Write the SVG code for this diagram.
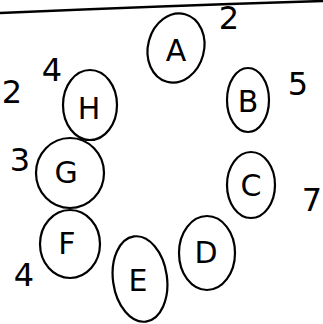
<svg xmlns="http://www.w3.org/2000/svg" width="323" height="324" viewBox="0 0 323 324">
<style>
.n{fill:none;stroke:#000;stroke-width:2.2}
.t{font-family:"DejaVu Sans","Liberation Sans",sans-serif;font-size:30px;fill:#000;text-anchor:middle;dominant-baseline:central}
.w{font-family:"DejaVu Sans","Liberation Sans",sans-serif;font-size:32px;fill:#000;text-anchor:middle;dominant-baseline:central}
</style>
<rect width="323" height="324" fill="#fff"/>
<g id="connectors">
<path d="M0,13 Q160,6 323,1" fill="none" stroke="#000" stroke-width="2.5"/>
</g>
<g id="A"><ellipse class="n" cx="176" cy="48" rx="28" ry="35" transform="rotate(15 176 48)"/><text class="t" x="176" y="50">A</text></g>
<g id="B"><ellipse class="n" cx="248" cy="100" rx="21" ry="32"/><text class="t" x="248" y="101">B</text></g>
<g id="C"><ellipse class="n" cx="251" cy="185" rx="24" ry="33"/><text class="t" x="251" y="185">C</text></g>
<g id="D"><ellipse class="n" cx="207" cy="253" rx="28" ry="37"/><text class="t" x="206" y="252">D</text></g>
<g id="E"><ellipse class="n" cx="140" cy="279" rx="27" ry="43" transform="rotate(-8 140 279)"/><text class="t" x="138" y="280">E</text></g>
<g id="F"><ellipse class="n" cx="70" cy="244" rx="30" ry="34"/><text class="t" x="67" y="243">F</text></g>
<g id="G"><ellipse class="n" cx="70" cy="173" rx="34" ry="35"/><text class="t" x="66" y="172">G</text></g>
<g id="H"><ellipse class="n" cx="90" cy="105" rx="27" ry="35"/><text class="t" x="89" y="108">H</text></g>
<g id="labels">
<text class="w" x="229" y="18">2</text>
<text class="w" x="298" y="84">5</text>
<text class="w" x="312" y="200">7</text>
<text class="w" x="24" y="275">4</text>
<text class="w" x="20" y="160">3</text>
<text class="w" x="12" y="92">2</text>
<text class="w" x="52" y="70">4</text>
</g>
</svg>
